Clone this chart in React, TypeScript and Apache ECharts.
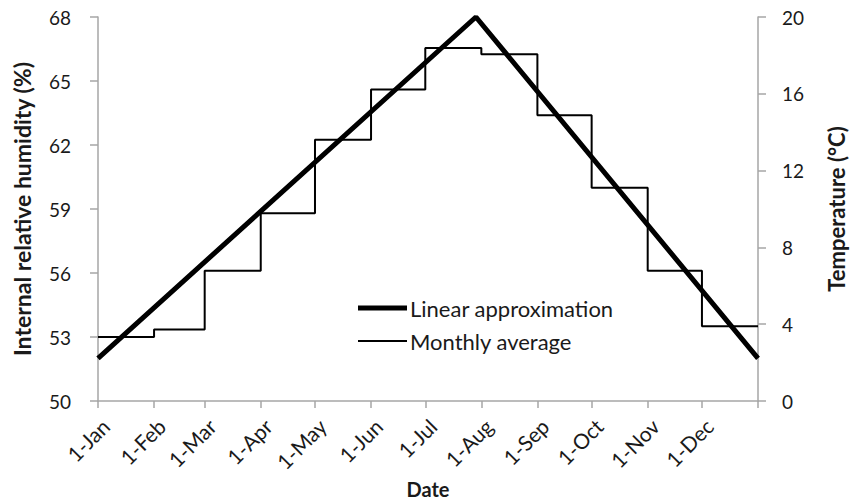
import React, { useEffect, useRef } from "react";
import * as echarts from "echarts";

const monthStartDays = [0, 31, 59, 90, 120, 151, 181, 212, 243, 273, 304, 334, 365];
const monthLabels = ["1-Jan", "1-Feb", "1-Mar", "1-Apr", "1-May", "1-Jun", "1-Jul", "1-Aug", "1-Sep", "1-Oct", "1-Nov", "1-Dec"];

// Linear approximation (humidity %), by day of year
const linearDays = [0, 209, 365];
const linearValues = [52, 68, 52];

// Monthly average (humidity %), value held from each month start
const monthlyAvg = [53.0, 53.35, 56.1, 58.8, 62.25, 64.6, 66.55, 66.25, 63.4, 60.0, 56.1, 53.5];

const legendNames = ["Linear approximation", "Monthly average"];

const FONT = "Lato";
const TXT = "#1a1a1a";
const AXIS = "#a6a6a6";

export default function App() {
  const ref = useRef<HTMLDivElement>(null);
  useEffect(() => {
    if (!ref.current) return;
    const chart = echarts.init(ref.current, null, { renderer: "svg" });
    const linearData = linearDays.map((d, i) => [d, linearValues[i]]);
    const stepData = monthlyAvg.map((v, i) => [monthStartDays[i], v]);
    stepData.push([365, monthlyAvg[monthlyAvg.length - 1]]);
    const legendWidths = [5, 2];
    const legendY = [308, 341];
    const graphic: any[] = [];
    legendNames.forEach((n, i) => {
      graphic.push({
        type: "line",
        shape: { x1: 358, y1: legendY[i], x2: 407, y2: legendY[i] },
        style: { stroke: "#000", lineWidth: legendWidths[i] },
      });
      graphic.push({
        type: "text",
        x: 410,
        y: legendY[i],
        style: { text: n, fill: TXT, font: `22px ${FONT}`, textVerticalAlign: "middle", textAlign: "left" },
      });
    });
    chart.setOption({
      animation: false,
      textStyle: { fontFamily: FONT, color: TXT },
      grid: { left: 98, right: 92, top: 17, bottom: 99, containLabel: false, outerBoundsMode: "none" },
      graphic,
      xAxis: {
        type: "value",
        min: 0,
        max: 365,
        name: "Date",
        nameLocation: "middle",
        nameGap: 69,
        nameTextStyle: { fontFamily: FONT, fontSize: 20, fontWeight: "bold", color: TXT },
        axisLine: { show: true, lineStyle: { color: AXIS, width: 1.5 } },
        axisTick: { show: true, length: 7, customValues: monthStartDays, lineStyle: { color: AXIS, width: 1.5 } },
        axisLabel: {
          customValues: monthStartDays.slice(0, 12),
          rotate: 45,
          margin: 14,
          verticalAlign: "top",
          fontFamily: FONT,
          fontSize: 21,
          color: TXT,
          formatter: (v: number) => {
            const i = monthStartDays.indexOf(v);
            return i >= 0 && i < monthLabels.length ? monthLabels[i] : "";
          },
        },
        splitLine: { show: false },
      },
      yAxis: [
        {
          type: "value",
          min: 50,
          max: 68,
          interval: 3,
          position: "left",
          name: "Internal relative humidity (%)",
          nameLocation: "middle",
          nameRotate: 90,
          nameGap: 65,
          nameTextStyle: { fontFamily: FONT, fontSize: 23, fontWeight: "bold", color: TXT },
          axisLine: { show: true, lineStyle: { color: AXIS, width: 1.5 } },
          axisTick: { show: true, length: 8, lineStyle: { color: AXIS, width: 1.5 } },
          axisLabel: { margin: 27, fontFamily: FONT, fontSize: 19, color: TXT },
          splitLine: { show: false },
        },
        {
          type: "value",
          min: 0,
          max: 20,
          interval: 4,
          position: "right",
          name: "Temperature (°C)",
          nameLocation: "middle",
          nameRotate: 90,
          nameGap: 67,
          nameTextStyle: { fontFamily: FONT, fontSize: 22, fontWeight: "bold", color: TXT },
          axisLine: { show: true, lineStyle: { color: AXIS, width: 1.5 } },
          axisTick: { show: true, length: 8, lineStyle: { color: AXIS, width: 1.5 } },
          axisLabel: { margin: 24, fontFamily: FONT, fontSize: 19, color: TXT },
          splitLine: { show: false },
        },
      ],
      series: [
        {
          name: "Monthly average",
          type: "line",
          yAxisIndex: 0,
          step: "end",
          showSymbol: false,
          symbol: "none",
          lineStyle: { color: "#000", width: 2 },
          data: stepData,
          z: 2,
        },
        {
          name: "Linear approximation",
          type: "line",
          yAxisIndex: 0,
          showSymbol: false,
          symbol: "none",
          lineStyle: { color: "#000", width: 5 },
          data: linearData,
          z: 3,
        },
      ],
    });
    return () => chart.dispose();
  }, []);
  return <div ref={ref} style={{ width: 850, height: 500, position: "absolute", left: 0, top: 0 }} />;
}
